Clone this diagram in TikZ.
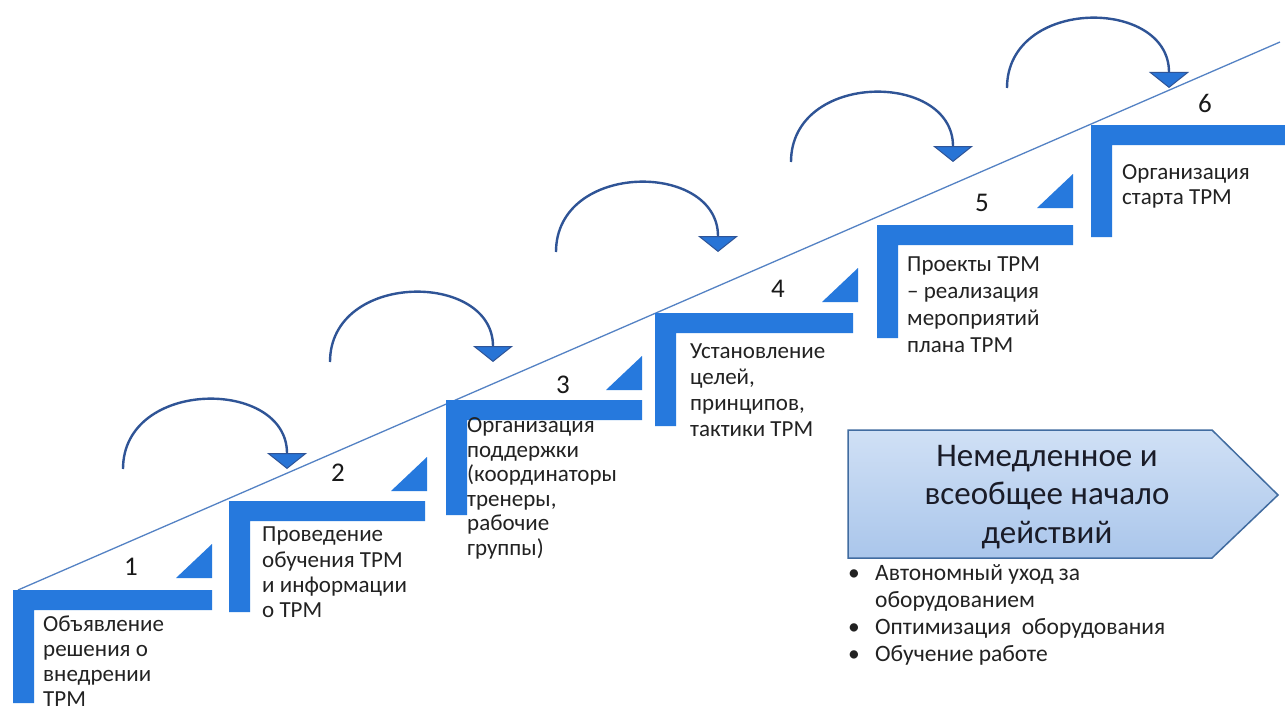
\documentclass[tikz,border=0pt]{standalone}
\usepackage{fontspec}
\setmainfont{Carlito}
\usetikzlibrary{arrows.meta}

\definecolor{stepblue}{RGB}{38,121,221}
\definecolor{guide}{RGB}{84,130,196}
\definecolor{arcblue}{RGB}{47,84,150}
\definecolor{tipblue}{RGB}{40,116,214}
\definecolor{boxtop}{RGB}{208,224,245}
\definecolor{boxbot}{RGB}{170,198,235}
\definecolor{boxedge}{RGB}{65,108,160}
\definecolor{ink}{RGB}{34,34,34}
\definecolor{boxink}{RGB}{26,28,40}

% one stair: corner (x0,y0), tread end xr, riser bottom yb
\newcommand\stairL[4]{%
  \fill[stepblue] (#1,#2) -- (#3,#2) -- (#3,#2+20) -- (#1+21,#2+20)
    -- (#1+21,#4) -- (#1,#4) -- cycle;}
% small wedge above a tread: right edge xr, base y
\newcommand\stairwedge[2]{%
  \fill[stepblue] (#1-36,#2) -- (#1,#2) -- (#1,#2-34) -- cycle;}

\begin{document}
\begin{tikzpicture}[x=1pt,y=-1pt,
  steptext/.style={anchor=north west, inner sep=0pt, text=ink},
  stepnum/.style={inner sep=0pt, text=black!90, font=\fontsize{27}{30}\selectfont},
  hop/.style={draw=arcblue, line width=2.4pt,
    -{Triangle[width=40pt,length=16pt,fill=tipblue,line width=1pt]}},
]
\useasboundingbox[fill=white] (0,0) rectangle (1285,709);

% rising guide line
\coordinate (g0) at (18,590);
\coordinate (g1) at (1280,42);
\draw[guide, line width=1.3pt] (g0) -- (g1);

% stairs
\stairL{13}{590}{212}{703}
\stairL{229}{501}{425}{612}
\stairL{446}{400}{642}{515}
\stairL{655}{313}{853}{426}
\stairL{877}{225}{1073}{338}
\stairL{1091}{125}{1285}{237}

\stairwedge{212}{578}
\stairwedge{427}{491}
\stairwedge{642}{390}
\stairwedge{858}{302}
\stairwedge{1073}{208}

% hop arrows between stairs
\foreach \i/\sx/\sy/\ex in {1/123/469/287, 2/330/362/493, 3/556/252/718,
                            4/791/162/953, 5/1007/88/1169}{
  \coordinate (h\i s) at (\sx,\sy);
  \coordinate (h\i e) at (\ex,\sy);
  \draw[hop] (h\i s) .. controls +(0,-91) and +(0,-91) .. (h\i e);
}

% stair numbers
\node[stepnum] (n1) at (131,567) {1};
\node[stepnum] (n2) at (338,473) {2};
\node[stepnum] (n3) at (563,385) {3};
\node[stepnum] (n4) at (778,289) {4};
\node[stepnum] (n5) at (982,203) {5};
\node[stepnum] (n6) at (1205,103) {6};

% stair captions
\node[steptext] (t1) at (43,614) {\fontsize{23}{25}\selectfont
  \begin{tabular}{@{}l@{}}Объявление\\решения о\\внедрении\\TPM\end{tabular}};
\node[steptext] (t2) at (262,524) {\fontsize{23}{25.3}\selectfont
  \begin{tabular}{@{}l@{}}Проведение\\обучения TPM\\и информации\\о TPM\end{tabular}};
\node[steptext] (t3) at (467,415) {\fontsize{23}{24.6}\selectfont
  \begin{tabular}{@{}l@{}}Организация\\поддержки\\(координаторы\\тренеры,\\рабочие\\группы)\end{tabular}};
\node[steptext] (t4) at (690,340) {\fontsize{23}{26}\selectfont
  \begin{tabular}{@{}l@{}}Установление\\целей,\\принципов,\\тактики TPM\end{tabular}};
\node[steptext] (t5) at (907,252) {\fontsize{23}{27}\selectfont
  \begin{tabular}{@{}l@{}}Проекты TPM\\– реализация\\мероприятий\\плана TPM\end{tabular}};
\node[steptext] (t6) at (1122,162) {\fontsize{23}{25}\selectfont
  \begin{tabular}{@{}l@{}}Организация\\старта TPM\end{tabular}};

% goal banner
\path[top color=boxtop, bottom color=boxbot, draw=boxedge, line width=1.5pt]
  (848,430) -- (1212,430) -- (1278,495) -- (1212,558) -- (848,558) -- cycle;
\node[inner sep=0pt, text=boxink] (goal) at (1047,497) {\fontsize{33}{38.5}\selectfont
  \begin{tabular}{@{}c@{}}Немедленное и\\всеобщее начало\\действий\end{tabular}};

% actions list
\node[steptext] (acts) at (848,561) {\fontsize{23.5}{27}\selectfont
  \begin{tabular}{@{}p{27pt}@{}l@{}}
  \textbullet & Автономный уход за\\
              & оборудованием\\
  \textbullet & Оптимизация~ оборудования\\
  \textbullet & Обучение работе
  \end{tabular}};
\end{tikzpicture}
\end{document}
